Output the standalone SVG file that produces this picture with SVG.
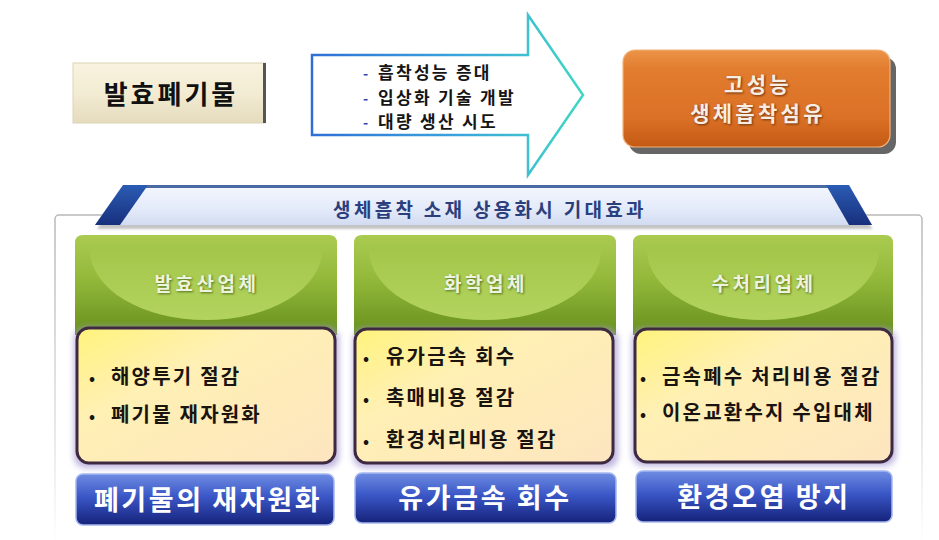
<svg xmlns="http://www.w3.org/2000/svg" width="939" height="540" viewBox="0 0 939 540">
<style>
  text { font-family: "Noto Sans CJK KR", "Noto Sans", sans-serif; font-weight: 700; }
  .arr { font-size: 17px; letter-spacing: 2.3px; fill: #151515; }
  .dash { font-size: 14px; fill: #2a46b0; }
  .hdr { font-size: 19px; letter-spacing: 3.5px; fill: #eef3de; text-anchor: middle; }
  .hdrs { font-size: 19px; letter-spacing: 3.5px; fill: #50701a; text-anchor: middle; }
  .item { font-size: 20px; letter-spacing: 2.2px; fill: #1a1410; }
  .dot { font-size: 16px; fill: #1a1410; }
  .lbl { font-size: 27px; letter-spacing: 2.6px; fill: #ffffff; text-anchor: middle; }
  .green { fill: url(#greenGrad); }
  .bowl { fill: url(#bowlGrad); }
  .yellow { fill: url(#yellowGrad); stroke: #3e2a40; stroke-width: 3; }
  .halo { fill: #a99bd6; opacity: 0.75; filter: url(#blur3); }
  .blue { fill: url(#blueGrad); stroke: #a4b6ee; stroke-width: 1.5; }
</style>
<defs>
  <filter id="blur3" x="-10%" y="-10%" width="120%" height="120%"><feGaussianBlur stdDeviation="3"/></filter>
  <filter id="blur1" x="-10%" y="-10%" width="120%" height="120%"><feGaussianBlur stdDeviation="1.2"/></filter>
  <linearGradient id="beige" x1="0" y1="0" x2="0" y2="1">
    <stop offset="0" stop-color="#f8f3df"/><stop offset="0.5" stop-color="#f3ecd3"/><stop offset="1" stop-color="#e5dbbd"/>
  </linearGradient>
  <linearGradient id="arrowStroke" x1="312" y1="0" x2="586" y2="0" gradientUnits="userSpaceOnUse">
    <stop offset="0" stop-color="#2f6fd6"/><stop offset="0.55" stop-color="#3aa6dc"/><stop offset="1" stop-color="#40d8c4"/>
  </linearGradient>
  <linearGradient id="orangeGrad" x1="0" y1="0" x2="0" y2="1">
    <stop offset="0" stop-color="#eb9448"/><stop offset="0.2" stop-color="#e27c2e"/><stop offset="0.7" stop-color="#db7126"/><stop offset="1" stop-color="#c45914"/>
  </linearGradient>
  <linearGradient id="bannerFill" x1="0" y1="0" x2="0" y2="1">
    <stop offset="0" stop-color="#f4f7fe"/><stop offset="0.6" stop-color="#e3eaf9"/><stop offset="1" stop-color="#d2dcf1"/>
  </linearGradient>
  <linearGradient id="capGrad" x1="0" y1="0" x2="0" y2="1">
    <stop offset="0" stop-color="#2b5cb4"/><stop offset="1" stop-color="#172f7c"/>
  </linearGradient>
  <linearGradient id="panelStroke" x1="0" y1="0" x2="0" y2="1">
    <stop offset="0" stop-color="#b8b8b8"/><stop offset="0.7" stop-color="#e4e4e4"/><stop offset="1" stop-color="#ffffff"/>
  </linearGradient>
  <linearGradient id="greenGrad" x1="0" y1="0" x2="0" y2="1">
    <stop offset="0" stop-color="#abcb50"/><stop offset="0.45" stop-color="#92b83a"/><stop offset="1" stop-color="#67901d"/>
  </linearGradient>
  <linearGradient id="bowlGrad" x1="0" y1="0" x2="0" y2="1">
    <stop offset="0" stop-color="#a4c74a"/><stop offset="1" stop-color="#b3d35f"/>
  </linearGradient>
  <linearGradient id="yellowGrad" x1="0" y1="0" x2="1" y2="1">
    <stop offset="0" stop-color="#fff37c"/><stop offset="0.35" stop-color="#fff0b4"/><stop offset="1" stop-color="#fde5c0"/>
  </linearGradient>
  <linearGradient id="blueGrad" x1="0" y1="0" x2="0" y2="1">
    <stop offset="0" stop-color="#6e8ce2"/><stop offset="0.45" stop-color="#3a56c6"/><stop offset="1" stop-color="#15227a"/>
  </linearGradient>
</defs>

<rect width="939" height="540" fill="#ffffff"/>

<!-- source node -->
<g id="node-waste">
  <rect x="73" y="63" width="192" height="60" fill="url(#beige)" stroke="#dcd3b8" stroke-width="1"/>
  <rect x="263" y="63" width="3" height="60" fill="#555555"/>
  <text x="171" y="104" text-anchor="middle" style="font-size:26px;letter-spacing:3px;fill:#111">발효폐기물</text>
</g>

<!-- connector: process arrow -->
<g id="connectors">
  <g id="arrow-process">
    <path d="M312,55 L528,55 L528,15 L583,95 L528,175 L528,135 L312,135 Z" fill="#ffffff" stroke="url(#arrowStroke)" stroke-width="2.5" stroke-linejoin="miter"/>
    <text class="dash" x="363" y="79">-</text>
    <text class="arr" x="378" y="79">흡착성능 증대</text>
    <text class="dash" x="363" y="104">-</text>
    <text class="arr" x="378" y="104">입상화 기술 개발</text>
    <text class="dash" x="363" y="128">-</text>
    <text class="arr" x="378" y="128">대량 생산 시도</text>
  </g>
</g>

<!-- target node -->
<g id="node-fiber">
  <rect x="629" y="57" width="267" height="97" rx="12" fill="#666666"/>
  <rect x="623" y="50" width="267" height="97" rx="12" fill="url(#orangeGrad)" stroke="#f2b27a" stroke-width="1.2"/>
  <g style="font-size:21px;letter-spacing:3.3px;text-anchor:middle">
    <text x="759" y="93" fill="#6a3008" filter="url(#blur1)">고성능</text>
    <text x="759" y="122" fill="#6a3008" filter="url(#blur1)">생체흡착섬유</text>
    <text x="758" y="92" fill="#f7ede2">고성능</text>
    <text x="758" y="121" fill="#f7ede2">생체흡착섬유</text>
  </g>
</g>

<!-- effects panel -->
<g id="panel">
  <rect x="55" y="215" width="867" height="330" rx="4" fill="#ffffff" stroke="url(#panelStroke)" stroke-width="1.5"/>
</g>

<g id="banner">
  <polygon points="97,229 125,188 838,188 873,229" fill="#c4c4c4" filter="url(#blur1)"/>
  <polygon points="95,225 123,185 849,185 872,225" fill="url(#bannerFill)"/>
  <line x1="123" y1="186.5" x2="849" y2="186.5" stroke="#4b6aa4" stroke-width="3"/>
  <polygon points="95,225 123,185 148,185 120,225" fill="url(#capGrad)"/>
  <polygon points="826,185 849,185 872,225 849,225" fill="url(#capGrad)"/>
  <text x="490" y="217" text-anchor="middle" style="font-size:19px;letter-spacing:3.3px;fill:#2b3f7c">생체흡착 소재 상용화시 기대효과</text>
</g>

<!-- column 1 -->
<g id="node-fermentation">
  <path d="M75,243 Q75,235 83,235 L329,235 Q337,235 337,243 L337,335 L75,335 Z" class="green"/>
  <path d="M90,250 A116,70 0 0 0 322,250 Z" class="bowl"/>
  <text class="hdrs" x="208" y="292" filter="url(#blur1)">발효산업체</text>
  <text class="hdr" x="207" y="291">발효산업체</text>
  <rect class="halo" x="74" y="327" width="265" height="141" rx="12"/>
  <rect class="yellow" x="77" y="328" width="258" height="135" rx="12"/>
  <text class="dot" x="89" y="384">•</text>
  <text class="item" x="111" y="384">해양투기 절감</text>
  <text class="dot" x="89" y="422">•</text>
  <text class="item" x="111" y="422">폐기물 재자원화</text>
</g>
<g id="result-recycle">
  <rect class="blue" x="76" y="474" width="258" height="51" rx="7"/>
  <text class="lbl" x="208" y="510">폐기물의 재자원화</text>
</g>

<!-- column 2 -->
<g id="node-chemical">
  <path d="M354,243 Q354,235 362,235 L608,235 Q616,235 616,243 L616,335 L354,335 Z" class="green"/>
  <path d="M369,250 A116,70 0 0 0 601,250 Z" class="bowl"/>
  <text class="hdrs" x="487" y="292" filter="url(#blur1)">화학업체</text>
  <text class="hdr" x="486" y="291">화학업체</text>
  <rect class="halo" x="353" y="328" width="265" height="140" rx="12"/>
  <rect class="yellow" x="355" y="329" width="258" height="134" rx="12"/>
  <text class="dot" x="363" y="364">•</text>
  <text class="item" x="386" y="364">유가금속 회수</text>
  <text class="dot" x="363" y="405">•</text>
  <text class="item" x="386" y="405">촉매비용 절감</text>
  <text class="dot" x="363" y="447">•</text>
  <text class="item" x="386" y="447">환경처리비용 절감</text>
</g>
<g id="result-metal">
  <rect class="blue" x="355" y="473" width="261" height="50" rx="7"/>
  <text class="lbl" x="485" y="508">유가금속 회수</text>
</g>

<!-- column 3 -->
<g id="node-water">
  <path d="M633,243 Q633,235 641,235 L885,235 Q893,235 893,243 L893,335 L633,335 Z" class="green"/>
  <path d="M647,250 A116,70 0 0 0 879,250 Z" class="bowl"/>
  <text class="hdrs" x="765" y="292" filter="url(#blur1)">수처리업체</text>
  <text class="hdr" x="764" y="291">수처리업체</text>
  <rect class="halo" x="632" y="328" width="264" height="138" rx="12"/>
  <rect class="yellow" x="635" y="329" width="257" height="133" rx="12"/>
  <text class="dot" x="640" y="384">•</text>
  <text class="item" x="662" y="384">금속폐수 처리비용 절감</text>
  <text class="dot" x="640" y="420">•</text>
  <text class="item" x="662" y="420">이온교환수지 수입대체</text>
</g>
<g id="result-pollution">
  <rect class="blue" x="636" y="471" width="256" height="51" rx="7"/>
  <text class="lbl" x="764" y="507">환경오염 방지</text>
</g>
</svg>
